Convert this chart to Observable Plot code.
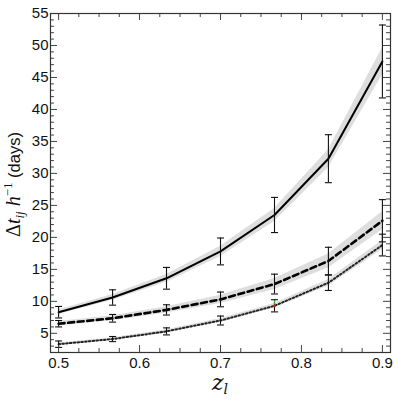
<!DOCTYPE html>
<html><head><meta charset="utf-8">
<script src="https://cdn.jsdelivr.net/npm/d3@7"></script>
<script src="https://cdn.jsdelivr.net/npm/@observablehq/plot@0.6"></script>
<style>
body{margin:0;background:#fff}
#chart g[aria-label="x-axis tick label"] text, #chart g[aria-label="y-axis tick label"] text { font-size: 15px !important; font-family: 'Liberation Sans', Arial, sans-serif !important; }
</style>
</head><body><div id="chart"></div>
<script>
const zl = [0.5, 0.5667, 0.6333, 0.7, 0.7667, 0.8333, 0.9];

const solidDt   = [8.3, 10.6, 13.6, 17.8, 23.5, 32.3, 47.5];
const solidErr  = [0.9, 1.2, 1.7, 2.1, 2.75, 3.75, 5.7];
const solidBand = [0.35, 0.45, 0.6, 0.8, 1.0, 1.4, 2.1];

const dashedDt   = [6.5, 7.35, 8.66, 10.3, 12.7, 16.3, 22.6];
const dashedErr  = [0.5, 0.6, 0.8, 1.15, 1.55, 2.15, 3.3];
const dashedBand = [0.35, 0.4, 0.5, 0.65, 0.85, 1.1, 1.4];

const dottedDt   = [3.3, 4.1, 5.3, 7.0, 9.3, 12.9, 18.8];
const dottedErr  = [0.5, 0.4, 0.55, 0.7, 0.95, 1.2, 1.7];
const dottedBand = [0.2, 0.2, 0.25, 0.3, 0.35, 0.5, 0.7];

const xMajorTicks = [0.5, 0.6, 0.7, 0.8, 0.9];
const xTickLabels = ["0.5", "0.6", "0.7", "0.8", "0.9"];
const yMajorTicks = [5, 10, 15, 20, 25, 30, 35, 40, 45, 50, 55];
const yTickLabels = ["5", "10", "15", "20", "25", "30", "35", "40", "45", "50", "55"];
const xMinorTicks = [0.525, 0.55, 0.575, 0.625, 0.65, 0.675, 0.725, 0.75, 0.775, 0.825, 0.85, 0.875];
const yMinorTicks = d3.range(2, 56, 1).filter(v => v % 5 !== 0);

// small highlighted segment seen on the dotted curve
const markX = [0.7667];
const markY = [9.3];
const markTop = [10.2];

function series(name, ys, errs, bands) {
  return zl.map((x, i) => ({name, x, y: ys[i], e: errs[i], b: bands[i]}));
}
const solid = series("solid", solidDt, solidErr, solidBand);
const dashed = series("dashed", dashedDt, dashedErr, dashedBand);
const dotted = series("dotted", dottedDt, dottedErr, dottedBand);
const all = [...solid, ...dashed, ...dotted];
const marks = markX.map((x, i) => ({x, y: markY[i], top: markTop[i]}));

const W = 398, H = 402, mL = 50, mR = 8, mT = 13, mB = 50;
const innerW = W - mL - mR, innerH = H - mT - mB;
const major = 7, minor = 4;

const cap = {draw(ctx) { ctx.moveTo(-3.5, 0); ctx.lineTo(3.5, 0); }};

function labels(index, scales, values, dims) {
  const g = d3.create("svg:g");
  const cx = (dims.marginLeft + dims.width - dims.marginRight) / 2;
  const cy = (dims.marginTop + dims.height - dims.marginBottom) / 2;
  const serif = "'Liberation Serif', 'DejaVu Serif', serif";
  // x label
  const xt = g.append("text")
    .attr("x", cx).attr("y", 390)
    .attr("text-anchor", "middle")
    .attr("font-family", "'DejaVu Serif', serif")
    .attr("font-style", "italic").attr("fill", "#111");
  xt.append("tspan").attr("font-size", 22).text("z");
  xt.append("tspan").attr("font-size", 14).attr("dy", 4).text("l");
  // y label
  const yt = g.append("text")
    .attr("transform", `translate(20,${cy + 2}) rotate(-90)`)
    .attr("text-anchor", "middle").attr("fill", "#111");
  yt.append("tspan").attr("font-family", serif).attr("font-size", 20).text("Δ");
  yt.append("tspan").attr("font-family", serif).attr("font-style", "italic").attr("font-size", 20).text("t");
  yt.append("tspan").attr("font-family", serif).attr("font-style", "italic").attr("font-size", 13).attr("dy", 4).text("ij");
  yt.append("tspan").attr("font-family", serif).attr("font-style", "italic").attr("font-size", 20).attr("dy", -4).text(" h");
  yt.append("tspan").attr("font-family", serif).attr("font-size", 13).attr("dy", -8).text("−1");
  yt.append("tspan").attr("font-family", "'Liberation Sans', Arial, sans-serif").attr("font-size", 16.5).attr("dy", 8).text(" (days)");
  return g.node();
}

const chart = Plot.plot({
  width: W, height: H,
  marginLeft: mL, marginRight: mR, marginTop: mT, marginBottom: mB,
  style: {fontFamily: "'Liberation Sans', Arial, sans-serif", fontSize: "15px", background: "#fff", overflow: "visible"},
  x: {domain: [0.49, 0.91], label: null},
  y: {domain: [2, 55], label: null},
  marks: [
    Plot.areaY(all, {x: "x", y1: d => d.y - d.b, y2: d => d.y + d.b, z: "name", fill: "#dedede"}),
    Plot.lineY(solid, {x: "x", y: "y", stroke: "#000", strokeWidth: 2}),
    Plot.lineY(dashed, {x: "x", y: "y", stroke: "#000", strokeWidth: 2.6, strokeDasharray: "6,3.6"}),
    Plot.lineY(dotted, {x: "x", y: "y", stroke: "#222", strokeWidth: 2, strokeDasharray: "1.6,2.2"}),
    Plot.ruleX(all, {x: "x", y1: d => d.y - d.e, y2: d => d.y + d.e, stroke: "#111", strokeWidth: 1.1}),
    Plot.dot(all, {x: "x", y: d => d.y + d.e, symbol: cap, stroke: "#111", fill: "none", strokeWidth: 1.1}),
    Plot.dot(all, {x: "x", y: d => d.y - d.e, symbol: cap, stroke: "#111", fill: "none", strokeWidth: 1.1}),
    Plot.ruleX(marks, {x: "x", y1: d => d.y + 0.15, y2: d => d.top - 0.1, stroke: "#3a3", strokeWidth: 1.2}),
    Plot.dot(marks, {x: "x", y: "y", r: 1.3, fill: "#d22", stroke: null}),
    // ticks (inward, all four sides)
    Plot.ruleX(xMajorTicks, {x: d => d, insetTop: innerH - major, stroke: "#444"}),
    Plot.ruleX(xMajorTicks, {x: d => d, insetBottom: innerH - major, stroke: "#444"}),
    Plot.ruleX(xMinorTicks, {x: d => d, insetTop: innerH - minor, stroke: "#444"}),
    Plot.ruleX(xMinorTicks, {x: d => d, insetBottom: innerH - minor, stroke: "#444"}),
    Plot.ruleY(yMajorTicks, {y: d => d, insetRight: innerW - major, stroke: "#444"}),
    Plot.ruleY(yMajorTicks, {y: d => d, insetLeft: innerW - major, stroke: "#444"}),
    Plot.ruleY(yMinorTicks, {y: d => d, insetRight: innerW - minor, stroke: "#444"}),
    Plot.ruleY(yMinorTicks, {y: d => d, insetLeft: innerW - minor, stroke: "#444"}),
    Plot.frame({stroke: "#333", strokeWidth: 1.2}),
    Plot.axisX({ticks: xMajorTicks, tickSize: 0, tickPadding: 5, label: null,
      tickFormat: d => xTickLabels[xMajorTicks.indexOf(d)], fill: "#111"}),
    Plot.axisY({ticks: yMajorTicks, tickSize: 0, tickPadding: 2, label: null,
      tickFormat: d => yTickLabels[yMajorTicks.indexOf(d)], fill: "#111"}),
    labels
  ]
});
document.getElementById("chart").appendChild(chart);
</script>
</body></html>
